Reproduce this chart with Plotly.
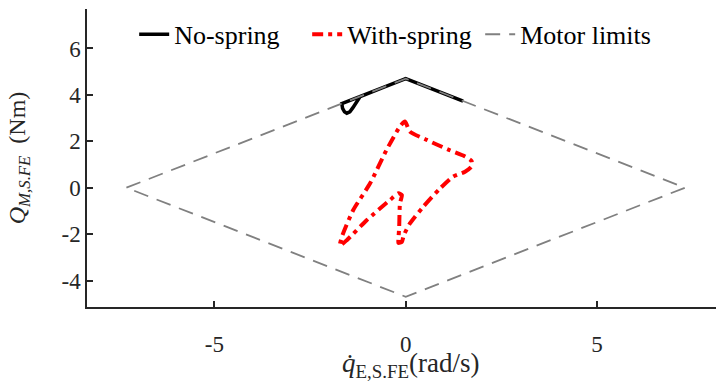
import plotly.graph_objects as go

# No-spring trajectory (rad/s, Nm)
nospring_x = [1.50, 1.0, 0.5, 0.0, -0.6, -1.2, -1.67, -1.65, -1.60, -1.54, -1.46, -1.38, -1.30, -1.19, -0.6, 0.0]
nospring_y = [3.73, 4.06, 4.38, 4.70, 4.31, 3.93, 3.62, 3.42, 3.27, 3.21, 3.27, 3.45, 3.68, 3.93, 4.31, 4.70]

# With-spring trajectory
spring_x = [-0.02, 0.11, 0.55, 1.10, 1.55, 1.72, 1.72, 1.55, 1.24, 0.90, 0.46, 0.11, -0.05, -0.10, -0.19, -0.19,
            -0.17, -0.15, -0.10, -0.19, -0.41, -1.02, -1.54, -1.72, -1.67, -1.37, -0.93, -0.50, -0.15, -0.02]
spring_y = [2.85, 2.42, 2.06, 1.65, 1.35, 1.15, 0.91, 0.69, 0.48, -0.03, -0.82, -1.54, -2.05, -2.33, -2.38, -2.20,
            -1.68, -0.67, -0.32, -0.24, -0.53, -1.40, -2.26, -2.50, -2.12, -0.96, 0.19, 1.63, 2.64, 2.85]

# Motor limits
limit_x = [-7.3, 0.0, 7.3, 0.0, -7.3]
limit_y = [0.0, 4.7, 0.0, -4.7, 0.0]

X_TITLE = "<i>q̇</i><sub>E,S.FE</sub>(rad/s)"
Y_TITLE = "<i>Q</i><sub><i>M,S.FE</i></sub>  (Nm)"

FONT = "Liberation Serif"
AX = "#262626"

fig = go.Figure()
fig.add_trace(go.Scatter(x=nospring_x, y=nospring_y, mode="lines", name="No-spring",
                         line=dict(color="black", width=3.5)))
fig.add_trace(go.Scatter(x=spring_x, y=spring_y, mode="lines", name="With-spring",
                         line=dict(color="#ff0000", width=4, dash="11px,5px,4px,5px", shape="spline", smoothing=0.6)))
fig.add_trace(go.Scatter(x=limit_x, y=limit_y, mode="lines", name="Motor limits",
                         line=dict(color="#808080", width=1.8, dash="15px,9px")))

axis_common = dict(showline=True, linecolor=AX, linewidth=1.5, ticks="inside", ticklen=6,
                   tickcolor=AX, tickwidth=1.5, showgrid=False, zeroline=False, mirror=False,
                   automargin=False, tickfont=dict(family=FONT, size=23, color=AX))

fig.update_xaxes(range=[-8.33, 8.11], tickvals=[-5, 0, 5], ticktext=["-5", "0", "5"], ticklabelstandoff=16,
                 **axis_common)
fig.update_yaxes(range=[-5.14, 7.7], tickvals=[-4, -2, 0, 2, 4, 6], ticktext=["-4", "-2", "0", "2", "4", "6"],
                 title=dict(text=Y_TITLE, font=dict(family=FONT, size=24, color=AX), standoff=29),
                 **axis_common)

fig.add_annotation(text=X_TITLE, xref="paper", yref="paper", x=0.515, y=0,
                   xanchor="center", yanchor="middle", yshift=-58, showarrow=False,
                   font=dict(family=FONT, size=27, color=AX))

fig.update_layout(
    width=716, height=385,
    margin=dict(l=87, r=0, t=9, b=78, autoexpand=False),
    plot_bgcolor="white", paper_bgcolor="white",
    showlegend=True,
    legend=dict(orientation="h", x=0.075, y=0.915, xanchor="left", yanchor="middle",
                font=dict(family=FONT, size=26, color="black"), bgcolor="rgba(255,255,255,0)",
                itemwidth=30, tracegroupgap=0, entrywidth=128, entrywidthmode="pixels"),
)

fig.write_html("out.html", config={"displayModeBar": False},
               post_script="document.body.style.margin='0';")
